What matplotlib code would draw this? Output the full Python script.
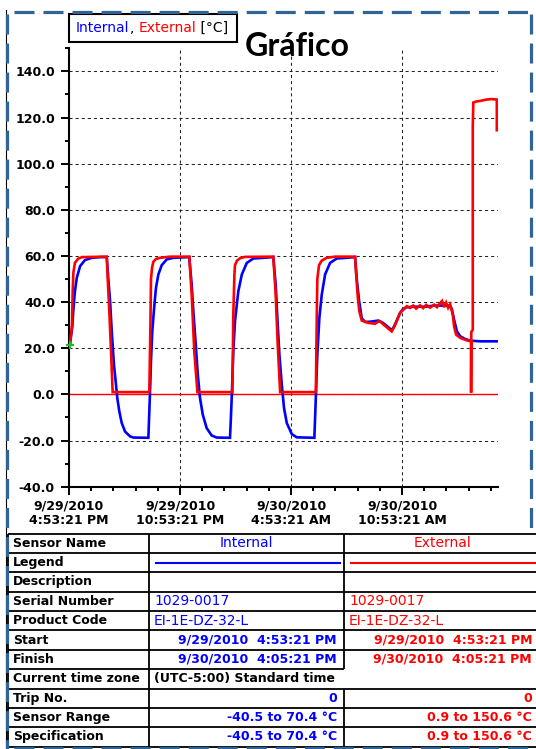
import matplotlib
matplotlib.use("Agg")
import matplotlib.pyplot as plt
from matplotlib.lines import Line2D
from matplotlib.patches import Rectangle
from matplotlib.ticker import FixedLocator, MultipleLocator, FuncFormatter

plt.rcParams['lines.scale_dashes'] = False
plt.rcParams['font.family'] = ['DejaVu Sans']

# ---------------- data ----------------
# hours elapsed since 9/29/2010 4:53:21 PM
internal_hours = [0.05, 0.18, 0.23, 0.32, 0.42, 0.60, 0.86, 1.23, 1.68, 2.04, 2.12, 2.22, 2.31, 2.43,
                  2.54, 2.61, 2.72, 2.85, 3.03, 3.30, 3.48, 4.29, 4.34, 4.38, 4.43, 4.50, 4.60, 4.70,
                  4.83, 5.01, 5.28, 5.64, 6.50, 6.63, 6.72, 6.85, 6.96, 7.08, 7.23, 7.44, 7.71, 7.98,
                  8.70, 8.75, 8.80, 8.88, 8.97, 9.15, 9.34, 9.61, 9.96, 11.04, 11.17, 11.26, 11.37,
                  11.50, 11.62, 11.77, 12.04, 12.31, 13.26, 13.34, 13.42, 13.53, 13.66, 13.84, 14.11,
                  14.47, 15.46, 15.55, 15.68, 15.82, 16.00, 16.27, 16.72, 16.97, 17.26, 17.44, 17.57,
                  17.71, 17.89, 18.05, 18.25, 18.70, 19.24, 19.78, 20.32, 20.59, 20.69, 20.81, 20.96,
                  21.14, 21.41, 21.68, 22.22, 23.20]
internal_temps = [21.6, 29.5, 36.0, 44.7, 50.5, 55.6, 58.2, 59.2, 59.5, 59.5, 50.5, 40.4, 27.3, 12.9,
                  4.2, -1.6, -7.4, -12.4, -16.1, -18.2, -18.7, -18.8, -7.4, 1.3, 14.3, 27.3, 37.5, 46.2,
                  52.0, 56.0, 58.5, 59.2, 59.5, 47.6, 36.0, 21.6, 8.6, -1.6, -8.8, -14.6, -17.8, -18.7,
                  -18.8, -10.0, -0.1, 18.7, 31.7, 44.7, 52.0, 57.0, 58.9, 59.5, 47.6, 33.2, 17.2,
                  4.2, -5.9, -12.4, -17.2, -18.6, -18.8, -1.0, 17.2, 33.2, 43.3, 52.0, 57.0,
                  58.9, 59.5, 50.0, 40.4, 33.0, 31.4, 31.5, 32.0, 31.0, 29.1, 27.8, 29.5,
                  32.0, 35.3, 37.0, 37.8, 38.0, 38.0, 38.5, 38.5, 38.5, 37.0, 32.4, 27.4,
                  25.2, 24.0, 23.3, 23.0, 23.0]

external_hours = [0.05, 0.16, 0.20, 0.24, 0.32, 0.49, 0.70, 2.04, 2.09, 2.18, 2.27, 2.36, 4.34, 4.40,
                  4.43, 4.49, 4.56, 4.70, 4.92, 5.46, 6.50, 6.63, 6.77, 6.94, 8.83, 8.88, 8.94, 8.97,
                  9.08, 9.24, 9.51, 11.04, 11.17, 11.28, 11.41, 13.34, 13.40, 13.42, 13.51, 13.66,
                  13.93, 14.38, 15.46, 15.51, 15.61, 15.69, 15.82, 16.18, 16.54, 16.70, 16.81, 16.99,
                  17.26, 17.44, 17.62, 17.89, 17.98, 18.25, 18.43, 18.60, 18.76, 18.97, 19.14, 19.30,
                  19.51, 19.73, 19.89, 20.05, 20.16, 20.27, 20.38, 20.49, 20.60, 20.74, 20.81, 20.92,
                  21.14, 21.50, 21.73, 21.73, 21.74, 21.82, 21.82, 21.85, 22.04, 22.22, 22.58, 22.81,
                  23.12, 23.12]
external_temps = [21.6, 30.0, 45.0, 53.0, 57.0, 58.8, 59.5, 59.7, 50.5, 36.0, 18.7, 1.0, 1.0, 30.0,
                  50.0, 55.0, 57.5, 58.7, 59.2, 59.7, 59.7, 43.3, 18.7, 1.0, 1.0, 35.0, 52.0, 56.0,
                  58.0, 59.0, 59.6, 59.7, 43.3, 21.6, 1.0, 1.0, 40.0, 50.0, 56.0, 58.0,
                  59.2, 59.7, 59.7, 53.0, 41.9, 36.0, 32.0, 31.0, 30.6, 31.5, 31.7, 30.3,
                  28.5, 27.3, 30.0, 35.3, 36.0, 38.2, 37.5, 38.5, 37.2, 38.6, 37.4, 38.8,
                  37.6, 38.9, 37.8, 39.5, 40.5, 37.8, 39.8, 37.5, 39.0, 34.6, 29.5, 25.9,
                  24.5, 23.4, 23.0, 0.8, 27.0, 28.0, 116.0, 126.5, 127.0, 127.2, 127.8, 128.0,
                  127.8, 114.5]

start_marker_hour = [0.03]
start_marker_temp = [21.3]
reference_level = 0.0

x_tick_hours = [0, 6, 12, 18]
x_tick_labels = ["9/29/2010\n4:53:21 PM", "9/29/2010\n10:53:21 PM",
                 "9/30/2010\n4:53:21 AM", "9/30/2010\n10:53:21 AM"]
x_end_hours = 23.2
y_ticks = [-40, -20, 0, 20, 40, 60, 80, 100, 120, 140]

row_labels = ["Sensor Name", "Legend", "Description", "Serial Number", "Product Code", "Start",
              "Finish", "Current time zone", "Trip No.", "Sensor Range", "Specification"]
internal_cells = ["Internal", "", "", "1029-0017", "EI-1E-DZ-32-L", "9/29/2010  4:53:21 PM",
                  "9/30/2010  4:05:21 PM", "(UTC-5:00) Standard time", "0",
                  "-40.5 to 70.4 °C", "-40.5 to 70.4 °C"]
external_cells = ["External", "", "", "1029-0017", "EI-1E-DZ-32-L", "9/29/2010  4:53:21 PM",
                  "9/30/2010  4:05:21 PM", "", "0", "0.9 to 150.6 °C", "0.9 to 150.6 °C"]
cell_align = ["center", "line", "left", "left", "left", "right", "right", "left", "right", "right", "right"]
cell_bold = [False, False, False, False, False, True, True, True, True, True, True]

BLUE = "#0000FF"
RED = "#FF0000"
FRAME = "#2F6497"

# ---------------- figure ----------------
W, H = 536, 749
fig = plt.figure(figsize=(W / 100, H / 100), dpi=100)


def fx(x):
    return x / W


def fy(y):
    return 1 - y / H


def seg(x0, y0, x1, y1, **kw):
    fig.add_artist(Line2D([fx(x0), fx(x1)], [fy(y0), fy(y1)], transform=fig.transFigure, **kw))


ax_l, ax_r, ax_t, ax_b = 69, 498.3, 48.3, 486.7
ax = fig.add_axes([fx(ax_l), fy(ax_b), (ax_r - ax_l) / W, (ax_b - ax_t) / H])
ax.set_xlim(0, x_end_hours)
ax.set_ylim(-40, 150)

for s in ["top", "right"]:
    ax.spines[s].set_visible(False)
for s in ["left", "bottom"]:
    ax.spines[s].set_linewidth(1.5)
    ax.spines[s].set_color("black")

ax.yaxis.set_major_locator(FixedLocator(y_ticks))
ax.yaxis.set_minor_locator(MultipleLocator(10))
ax.yaxis.set_major_formatter(FuncFormatter(lambda v, p: f"{v:.1f}"))
ax.xaxis.set_major_locator(FixedLocator(x_tick_hours))
ax.set_xticklabels(x_tick_labels)
ax.xaxis.set_minor_locator(MultipleLocator(1.2))

ax.tick_params(axis="both", which="major", length=5.8, width=1.4, color="black", direction="out")
ax.tick_params(axis="both", which="minor", length=3.0, width=1.4, color="black", direction="out")
ax.tick_params(axis="y", which="major", pad=4.3)
ax.tick_params(axis="x", which="major", pad=3.2)
for lab in ax.get_yticklabels() + ax.get_xticklabels():
    lab.set_fontweight("bold")
    lab.set_fontsize(9)
    lab.set_color("black")
for lab in ax.get_xticklabels():
    lab.set_linespacing(1.15)

ax.grid(True, which="major", axis="both", color="#222222", linewidth=0.75, linestyle=(0, (2.2, 2.2)))
ax.set_axisbelow(True)

ax.axhline(reference_level, color=RED, linewidth=1.0, zorder=2)
ax.plot(internal_hours, internal_temps, color=BLUE, linewidth=1.9, zorder=3,
        solid_joinstyle="miter")
ax.plot(external_hours, external_temps, color=RED, linewidth=1.9, zorder=4,
        solid_joinstyle="miter")
ax.plot(start_marker_hour, start_marker_temp, marker="+", color="#22BB22", markersize=6,
        markeredgewidth=1.5, linestyle="none", zorder=5, clip_on=False)

# ---------------- legend box & title ----------------
fig.add_artist(Rectangle((fx(68.5), fy(41.8)), (237 - 68.5) / W, (41.8 - 14.4) / H,
                         transform=fig.transFigure, facecolor="white", edgecolor="black",
                         linewidth=1.5, zorder=5))
t1 = fig.text(fx(76), fy(28.3), "Internal", color=BLUE, fontsize=10, va="center", ha="left", zorder=6)
fig.canvas.draw()
r = fig.canvas.get_renderer()
parts = [(", ", "black"), ("External", RED), (" [°C]", "black")]
prev = t1
for txt, col in parts:
    bb = prev.get_window_extent(r)
    prev = fig.text(bb.x1 / fig.bbox.width, fy(28.3), txt, color=col, fontsize=10,
                    va="center", ha="left", zorder=6)

fig.text(fx(297), fy(46), "Gráfico", fontsize=23, fontweight="bold", family="Lato",
         ha="center", va="center", color="black")

# ---------------- table ----------------
row_top = 533.5
row_h = 19.38
col_x = [8, 148.5, 343.5, 545]
n = len(row_labels)
line_kw = dict(color="black", linewidth=1.3, solid_capstyle="butt")

for i in range(n + 1):
    y = row_top + i * row_h
    if i == 7:  # no line under "Finish" in external column
        seg(col_x[0], y, col_x[2], y, **line_kw)
    elif i == 8:
        seg(col_x[0], y, W, y, **line_kw)
    else:
        seg(col_x[0], y, W, y, **line_kw)
for j, cx in enumerate(col_x[:3]):
    if j == 2:
        for i in range(n):
            if i == 7:
                continue
            seg(cx, row_top + i * row_h, cx, row_top + (i + 1) * row_h, **line_kw)
    else:
        seg(cx, row_top, cx, row_top + n * row_h, **line_kw)

for i in range(n):
    yc = row_top + (i + 0.5) * row_h
    fig.text(fx(13), fy(yc), row_labels[i], fontsize=9, fontweight="bold", ha="left",
             va="center", color="black")
    al = cell_align[i]
    wt = "bold" if cell_bold[i] else "normal"
    fs = 9 if cell_bold[i] else 10
    if al == "line":
        seg(156, yc, 340, yc, color=BLUE, linewidth=1.5)
        seg(351, yc, 536, yc, color=RED, linewidth=1.5)
        continue
    col_i = "black" if i == 7 else BLUE
    if al == "center":
        fig.text(fx(246.5), fy(yc), internal_cells[i], fontsize=fs, fontweight=wt, ha="center",
                 va="center", color=col_i)
        fig.text(fx(442.5), fy(yc), external_cells[i], fontsize=fs, fontweight=wt, ha="center",
                 va="center", color=RED)
    elif al == "left":
        fig.text(fx(154), fy(yc), internal_cells[i], fontsize=fs, fontweight=wt, ha="left",
                 va="center", color=col_i)
        fig.text(fx(349), fy(yc), external_cells[i], fontsize=fs, fontweight=wt, ha="left",
                 va="center", color=RED)
    else:
        fig.text(fx(337), fy(yc), internal_cells[i], fontsize=fs, fontweight=wt, ha="right",
                 va="center", color=col_i)
        fig.text(fx(532), fy(yc), external_cells[i], fontsize=fs, fontweight=wt, ha="right",
                 va="center", color=RED)

# ---------------- outer frame ----------------
seg(5.5, 10, 5.5, 749, color="black", linewidth=0.8)
frame_kw = dict(color=FRAME, linewidth=2.3, linestyle=(0, (14.4, 6.5)), zorder=10,
                solid_capstyle="butt", dash_capstyle="butt")
seg(14, 12, W, 12, **frame_kw)
seg(7, 14, 7, H, **frame_kw)
seg(531, 14, 531, 532, **frame_kw)
seg(14, 747.5, W, 747.5, **frame_kw)

fig.savefig("out.png", dpi=100)
